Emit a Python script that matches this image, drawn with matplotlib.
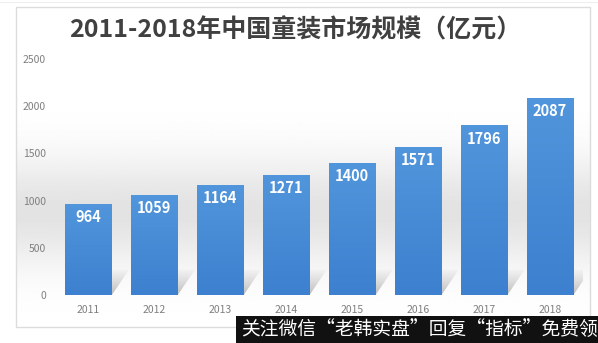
import numpy as np
import matplotlib
matplotlib.use("Agg")
import matplotlib.pyplot as plt
from matplotlib.patches import Rectangle, Polygon
from matplotlib.colors import LinearSegmentedColormap

plt.rcParams['font.family'] = ['Noto Sans CJK SC', 'DejaVu Sans']

years = ['2011', '2012', '2013', '2014', '2015', '2016', '2017', '2018']
market_size = [964, 1059, 1164, 1271, 1400, 1571, 1796, 2087]
y_ticks = [0, 500, 1000, 1500, 2000, 2500]
title = '2011-2018年中国童装市场规模（亿元）'
footer = '关注微信“老韩实盘”回复“指标”免费领'

W, H = 598, 343
fig = plt.figure(figsize=(W / 100, H / 100), dpi=100)
fig.patch.set_facecolor('white')

# panel background with soft grey band
bg = fig.add_axes([0, 0, 1, 1], zorder=0)
bg.set_xlim(0, W)
bg.set_ylim(H, 0)
bg.axis('off')
yy = np.linspace(0, 1, 300)
band = 1.0 - 0.11 * np.exp(-((yy - 0.64) / 0.17) ** 2)
grad = np.tile(band[:, None], (1, 2))
bg.imshow(grad, cmap='gray', vmin=0, vmax=1, extent=[16, 590, 327, 7],
          aspect='auto', interpolation='bilinear', zorder=0)
bg.add_patch(Rectangle((16, 7), 574, 320, fill=False, edgecolor='#dcdcdc', lw=1.0, zorder=1))
bg.plot([0, W], [2, 2], color='#eeeeee', lw=0.8, zorder=1)

ax = fig.add_axes([55.5 / W, 48 / H, 527.5 / W, 236 / H], zorder=2)
ax.patch.set_alpha(0)
x = np.arange(len(years))
bw = 0.71

# floor shadows behind bars
shade = LinearSegmentedColormap.from_list('shade', ['#b8b8b8', '#d8d8d8', '#f4f4f4'])
sh_grad = np.linspace(0, 1, 100)[:, None]
sh_h, sh_dx = 270, 0.26
for xi in x:
    x0, x1 = xi - bw / 2, xi + bw / 2
    poly = Polygon([(x0, 0), (x1, 0), (x1 + sh_dx, sh_h), (x0 + sh_dx, sh_h)],
                   closed=True, facecolor='none', edgecolor='none')
    ax.add_patch(poly)
    im = ax.imshow(sh_grad, cmap=shade, vmin=0, vmax=1, origin='lower',
                   extent=[x0, x1 + sh_dx, 0, sh_h], aspect='auto', zorder=1, alpha=0.9)
    im.set_clip_path(poly)

bars = ax.bar(x, market_size, width=bw, color='#4a8ed8', zorder=3)
blue = LinearSegmentedColormap.from_list('blue', ['#3d80cf', '#5196dc'])
for b in bars:
    im = ax.imshow(np.linspace(0, 1, 100)[:, None], cmap=blue, origin='lower',
                   extent=[b.get_x(), b.get_x() + b.get_width(), 0, b.get_height()],
                   aspect='auto', zorder=3.5)
    im.set_clip_path(b)

for xi, v in zip(x, market_size):
    ax.text(xi, v - 140, str(v), ha='center', va='center', color='white',
            fontsize=10.5, fontweight='bold', zorder=5)

ax.set_xlim(-0.5, len(years) - 0.5)
ax.set_ylim(0, 2500)
ax.set_yticks(y_ticks)
ax.set_yticklabels([str(t) for t in y_ticks])
ax.set_xticks(x)
ax.set_xticklabels(years)
ax.tick_params(axis='both', length=0, labelsize=7.5, labelcolor='#7f7f7f')
ax.tick_params(axis='y', pad=7)
ax.tick_params(axis='x', pad=7)
for s in ax.spines.values():
    s.set_visible(False)

fig.text(295 / W, 1 - 30 / H, title, ha='center', va='center', fontsize=18,
         fontweight='bold', color='#404040', zorder=6)

# footer banner
fb = fig.add_axes([0, 0, 1, 1], zorder=10)
fb.set_xlim(0, W)
fb.set_ylim(H, 0)
fb.axis('off')
fb.patch.set_alpha(0)
fb.add_patch(Rectangle((236, 316), W - 236, 27, facecolor='#111111', edgecolor='none'))
fb.text(241, 330, footer, ha='left', va='center', color='white', fontsize=13.5)

fig.savefig('out.png', dpi=100)
